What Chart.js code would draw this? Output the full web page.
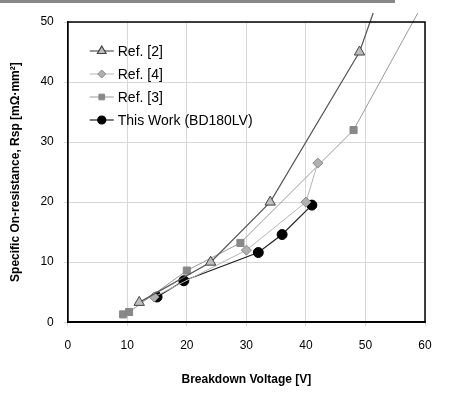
<!DOCTYPE html>
<html>
<head>
<meta charset="utf-8">
<script src="https://cdn.jsdelivr.net/npm/chart.js@4"></script>
<style>
  html, body { margin: 0; padding: 0; background: #fff; }
  #wrap { position: relative; width: 474px; height: 417px; }
  #topbar { position: absolute; left: 0; top: 0; width: 395px; height: 3px; background: #888; }
</style>
</head>
<body>
<div id="wrap">
  <canvas id="chart" width="474" height="417"></canvas>
  <div id="topbar"></div>
</div>
<script>
// values; last point of two series runs past the top edge
const ref2 = [[12, 3.3], [24, 10], [34, 20], [49, 45], [51.3, 51.5]];
const ref4 = [[14.5, 4.2], [30, 12], [40, 20], [42, 26.5]];
const ref3 = [[9.3, 1.3], [10.3, 1.7], [20, 8.6], [29, 13.2], [48, 32], [58.8, 51.5]];
const thisWork = [[15, 4.2], [19.5, 6.9], [32, 11.6], [36, 14.6], [41, 19.5]];
const xTicks = [0, 10, 20, 30, 40, 50, 60];
const yTicks = [0, 10, 20, 30, 40, 50];

const pts = arr => arr.map(p => ({ x: p[0], y: p[1] }));
const radii = (arr, r, lastHidden) => arr.map((p, i) => (lastHidden && i === arr.length - 1) ? 0 : r);

const series = [
  { label: 'Ref. [2]', data: ref2, style: 'triangle', line: '#555', fill: '#bdbdbd', edge: '#444', r: 6, hide: true, w: 1.2 },
  { label: 'Ref. [4]', data: ref4, style: 'rectRot', line: '#b5b5b5', fill: '#b0b0b0', edge: '#888', r: 5, hide: false, w: 1 },
  { label: 'Ref. [3]', data: ref3, style: 'rect', line: '#999', fill: '#888', edge: '#888', r: 5, hide: true, w: 1 },
  { label: 'This Work (BD180LV)', data: thisWork, style: 'circle', line: '#222', fill: '#000', edge: '#000', r: 5, hide: false, w: 1.2 }
];

// legend drawn inside the plot, top-left
const insideLegend = {
  id: 'insideLegend',
  afterDraw(chart) {
    const ctx = chart.ctx;
    const x0 = chart.chartArea.left + 22;
    let y = chart.chartArea.top + 29;
    ctx.save();
    series.forEach(s => {
      ctx.strokeStyle = s.line;
      ctx.lineWidth = s.w;
      ctx.beginPath(); ctx.moveTo(x0, y); ctx.lineTo(x0 + 24, y); ctx.stroke();
      ctx.fillStyle = s.fill; ctx.strokeStyle = s.edge;
      Chart.helpers.drawPoint(ctx, { pointStyle: s.style, radius: s.r - 1, borderWidth: 1, rotation: 0 }, x0 + 12, y);
      ctx.fillStyle = '#000';
      ctx.font = '14px "Liberation Sans", Arial, sans-serif';
      ctx.textBaseline = 'middle';
      ctx.fillText(s.label, x0 + 28, y + 1);
      y += 23;
    });
    ctx.restore();
  }
};

new Chart(document.getElementById('chart'), {
  type: 'scatter',
  data: {
    datasets: series.map(s => ({
      label: s.label,
      data: pts(s.data),
      showLine: true,
      borderColor: s.line,
      borderWidth: s.w,
      pointStyle: s.style,
      pointRadius: radii(s.data, s.r, s.hide),
      pointBackgroundColor: s.fill,
      pointBorderColor: s.edge,
      pointBorderWidth: 1,
      clip: false,
      tension: 0
    }))
  },
  options: {
    responsive: false,
    animation: false,
    layout: { padding: { top: 22, right: 49, left: 4, bottom: 26 } },
    scales: {
      x: {
        type: 'linear', min: 0, max: 60,
        afterBuildTicks: a => { a.ticks = xTicks.map(v => ({ value: v })); },
        grid: { color: '#d8d8d8', tickLength: 4 },
        border: { color: '#000', width: 1.5 },
        ticks: { color: '#000', padding: 12, font: { size: 12, family: 'Liberation Sans' } },
        title: { display: true, text: 'Breakdown Voltage [V]', color: '#000', padding: { top: 8 }, font: { size: 12, weight: 'bold', family: 'Liberation Sans' } }
      },
      y: {
        type: 'linear', min: 0, max: 50,
        afterBuildTicks: a => { a.ticks = yTicks.map(v => ({ value: v })); },
        grid: { color: '#d8d8d8', tickLength: 4 },
        border: { color: '#000', width: 1.5 },
        ticks: { color: '#000', padding: 10, font: { size: 12, family: 'Liberation Sans' } },
        title: { display: true, text: 'Specific On-resistance, Rsp [mΩ·mm²]', color: '#000', padding: { bottom: 8 }, font: { size: 12, weight: 'bold', family: 'Liberation Sans' } }
      }
    },
    plugins: { legend: { display: false }, tooltip: { enabled: false } }
  },
  plugins: [insideLegend, {
    id: 'frame',
    afterDraw(chart) {
      const a = chart.chartArea, ctx = chart.ctx;
      ctx.save(); ctx.strokeStyle = '#000'; ctx.lineWidth = 1.5;
      ctx.strokeRect(a.left, a.top, a.right - a.left, a.bottom - a.top);
      ctx.restore();
    }
  }]
});
</script>
</body>
</html>
